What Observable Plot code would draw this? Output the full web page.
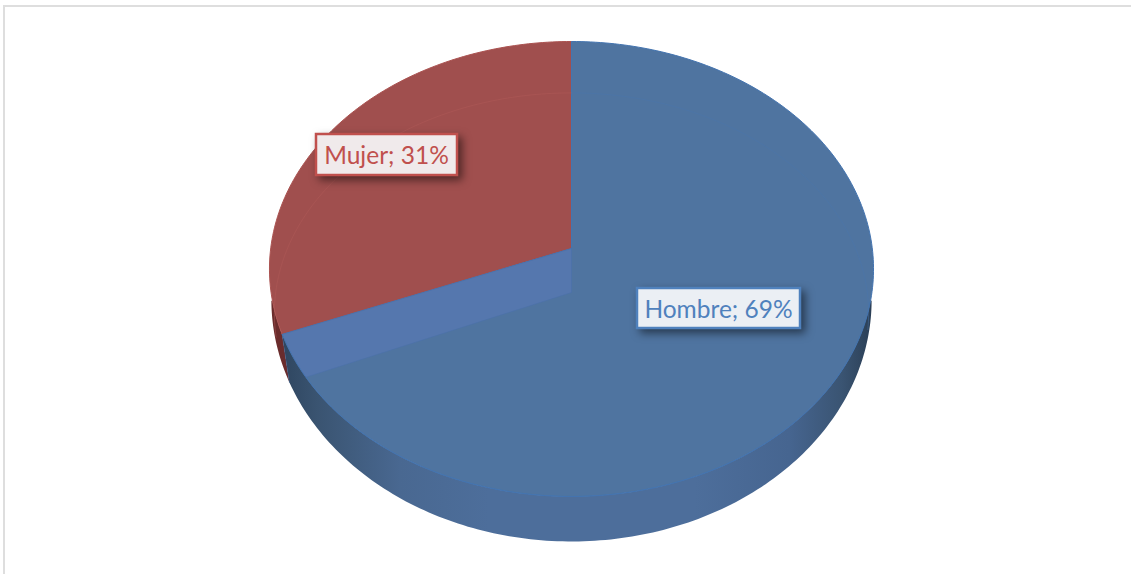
<!DOCTYPE html>
<html lang="es">
<head>
<meta charset="utf-8">
<title>Hombre / Mujer</title>
<script src="https://cdn.jsdelivr.net/npm/d3@7"></script>
<script src="https://cdn.jsdelivr.net/npm/@observablehq/plot@0.6"></script>
<style>
  html, body { margin: 0; padding: 0; background: #fff; overflow: hidden; }
  #frame { position: absolute; left: 3px; top: 5px; width: 1128px; height: 569px;
           border-top: 2px solid #dedede; border-left: 2px solid #dedede; box-sizing: border-box; }
  #chart { position: absolute; left: 0; top: 0; }
  #chart svg { background: transparent; display: block; }
</style>
</head>
<body>
<div id="frame"></div>
<div id="chart"></div>
<script>
// Data
const categories = ["Hombre", "Mujer"];
const percentages = [69, 31];

// Styling per series
const topColors = ["#4f74a0", "#a04f4e"];
const rimColors = ["#4474b0", "#ab5351"];
const labelColors = ["#4f81bd", "#c0504d"];
const labelFills = ["#ebeff4", "#f0eaeb"];

// Perspective geometry of the pie discs
const topFace = {cx: 571, cy: 248, a: 300.8, b: 225.65, k: 0.0901};
const lowFace = {cx: 571, cy: 292, a: 300, b: 241.5, k: 0.03};
const ghostRim = {cx: 571, cy: 306, a: 297, b: 220, k: 0.03};

// Label boxes
const labelBoxes = [
  {x1: 637, x2: 800, y1: 288, y2: 328},
  {x1: 316, x2: 457, y1: 134, y2: 175}
];

const project = (f, t) => {
  const u = Math.sin(t), v = Math.cos(t), w = 1 + f.k * v;
  return {x: f.cx + f.a * u / w, y: f.cy - f.b * v / w};
};
const arc = (f, t0, t1) => {
  const n = Math.max(2, Math.ceil(Math.abs(t1 - t0) / (Math.PI / 180)));
  return d3.range(n + 1).map(i => project(f, t0 + (t1 - t0) * i / n));
};
const apex = f => ({x: f.cx, y: f.cy});
const wedge = (f, s) => [apex(f), ...arc(f, s.startAngle, s.endAngle), apex(f)];

const slices = d3.pie().sort(null)(percentages);
const [hombre, mujer] = slices;
const cut = hombre.endAngle;
const rad = Math.PI / 180;

// Front side of the drum: between top rim and lower rim
const side = [...arc(topFace, 103 * rad, cut), ...arc(lowFace, cut, 92 * rad)];
// Cut wall of the large slice
const wall = [apex(topFace), project(topFace, cut), project(lowFace, cut), apex(lowFace), apex(topFace)];
// Silhouette of the red slice's body
const redBody = [...arc(topFace, cut, 257 * rad), ...arc(lowFace, 268 * rad, cut)];

const gradient = () => {
  const defs = d3.create("svg:defs");
  const g = defs.append("linearGradient").attr("id", "sideShade").attr("x1", 0).attr("x2", 1).attr("y1", 0).attr("y2", 0);
  [[0, "#2f4660"], [0.06, "#3a5471"], [0.2, "#496891"], [0.35, "#4d6e9b"],
   [0.7, "#4d6e9b"], [0.86, "#466590"], [0.95, "#3a5472"], [1, "#2b3f56"]]
    .forEach(([o, c]) => g.append("stop").attr("offset", o).attr("stop-color", c));
  return defs.node();
};

const labels = categories.map((c, i) => ({
  text: `${c}; ${percentages[i]}%`,
  ...labelBoxes[i],
  cx: (labelBoxes[i].x1 + labelBoxes[i].x2) / 2 - 0.5,
  cy: (labelBoxes[i].y1 + labelBoxes[i].y2) / 2 + 1.5,
  stroke: labelColors[i],
  fill: labelFills[i]
}));

const chart = Plot.plot({
  width: 1131,
  height: 574,
  margin: 0,
  x: {domain: [0, 1131], range: [0, 1131], axis: null},
  y: {domain: [0, 574], range: [0, 574], axis: null},
  style: {background: "transparent"},
  marks: [
    gradient,
    Plot.line(redBody, {x: "x", y: "y", fill: "#6a2c2c", stroke: "none"}),
    Plot.line(wedge(topFace, mujer), {x: "x", y: "y", fill: topColors[1], stroke: rimColors[1], strokeWidth: 1}),
    Plot.line(wedge(topFace, hombre), {x: "x", y: "y", fill: topColors[0], stroke: rimColors[0], strokeWidth: 1}),
    Plot.line(wall, {x: "x", y: "y", fill: "#5577ae", stroke: "#4a70aa", strokeWidth: 0.5}),
    Plot.line(side, {x: "x", y: "y", fill: "url(#sideShade)", stroke: "none"}),
    Plot.line(arc(topFace, 103 * rad, cut), {x: "x", y: "y", stroke: rimColors[0], strokeWidth: 1}),
    Plot.line(arc(ghostRim, 262 * rad, 360 * rad), {x: "x", y: "y", stroke: "#b25a58", strokeWidth: 1, strokeOpacity: 0.45}),
    Plot.line(arc(ghostRim, 0, 96 * rad), {x: "x", y: "y", stroke: "#4a76ad", strokeWidth: 1, strokeOpacity: 0.45}),
    Plot.rect(labels, {
      x1: "x1", x2: "x2", y1: "y1", y2: "y2",
      fill: "fill", stroke: "stroke", strokeWidth: 2.5,
      imageFilter: "drop-shadow(4px 4px 4px rgba(0,0,0,0.5))"
    }),
    Plot.text(labels, {
      x: "cx", y: "cy", text: "text", fill: "stroke",
      fontFamily: "Lato, sans-serif", fontSize: 24.5, textAnchor: "middle", lineAnchor: "middle"
    })
  ]
});
document.getElementById("chart").append(chart);
</script>
</body>
</html>
